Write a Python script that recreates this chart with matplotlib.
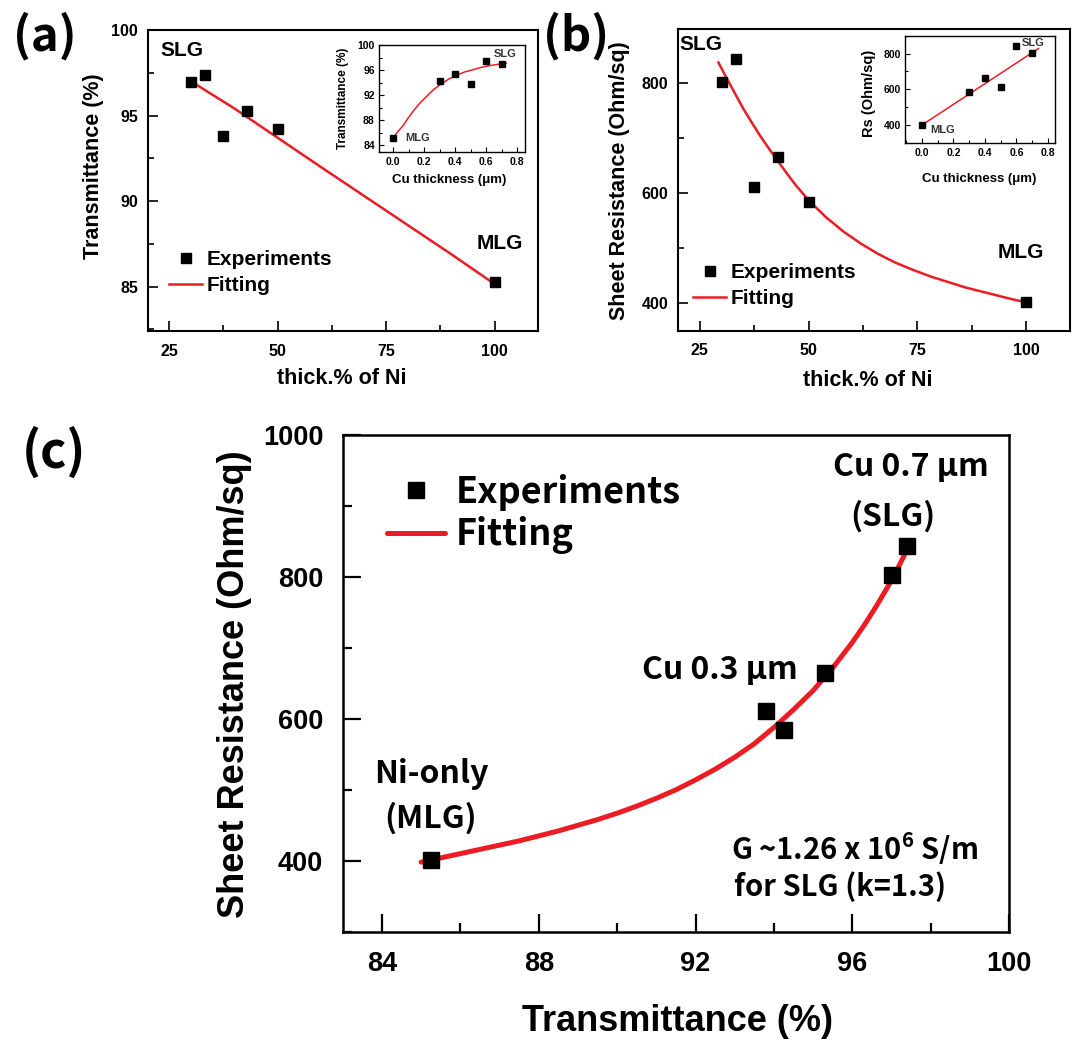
import matplotlib
matplotlib.use('Agg')
import matplotlib.pyplot as plt
from matplotlib.ticker import MultipleLocator

# ---------------- data ----------------
ni_pct = [30, 33.3, 37.5, 42.9, 50, 100]          # thick.% of Ni
cu_um = [0.7, 0.6, 0.5, 0.4, 0.3, 0.0]             # Cu thickness (um)
trans = [97.0, 97.4, 93.8, 95.3, 94.25, 85.25]     # Transmittance (%)
rs = [803, 844, 611, 665, 584, 401]                # Sheet resistance (Ohm/sq)

fit_a_x = [30.5, 40, 50, 60, 70, 80, 90, 100]
fit_a_y = [96.95, 95.44, 93.72, 92.0, 90.3, 88.6, 86.9, 85.15]

fit_b_x = [29.3, 31, 33, 35, 37, 39, 41, 43, 45, 47, 50, 54, 58, 62, 66, 70, 74, 78, 82, 86, 90, 94, 97, 100]
fit_b_y = [838, 812, 783, 754, 728, 703, 680, 658, 636, 615, 587, 556, 530, 508, 489, 473, 460, 448, 438, 428, 420, 412, 406, 401]

fit_ia_x = [0.01, 0.04, 0.065, 0.1, 0.13, 0.17, 0.215, 0.26, 0.31, 0.36, 0.41, 0.46, 0.52, 0.57, 0.62, 0.67, 0.73]
fit_ia_y = [85.6, 86.5, 87.2, 88.5, 89.5, 90.7, 91.8, 92.9, 93.8, 94.6, 95.2, 95.7, 96.1, 96.45, 96.7, 96.9, 97.1]

fit_ib_x = [0.01, 0.74]
fit_ib_y = [405, 828]

fit_c_x = [85.0, 85.5, 86.0, 86.5, 87.0, 87.5, 88.0, 88.5, 89.0, 89.5, 90.0, 90.5, 91.0, 91.5, 92.0,
           92.5, 93.0, 93.5, 94.0, 94.5, 95.0, 95.5, 96.0, 96.3, 96.6, 96.9, 97.1, 97.3, 97.45]
fit_c_y = [398, 404, 410, 416, 422, 428, 435, 442, 450, 458, 467, 477, 488, 500, 514,
           529, 546, 565, 588, 613, 640, 672, 708, 732, 758, 786, 806, 828, 846]

# ---------------- figure ----------------
W, H = 1073, 1040
fig = plt.figure(figsize=(W / 100, H / 100), dpi=100)
SANS = ['Liberation Sans', 'DejaVu Sans']
KR = ['Noto Sans CJK KR', 'DejaVu Sans']
plt.rcParams['font.family'] = SANS
plt.rcParams['font.weight'] = 'bold'
plt.rcParams['mathtext.default'] = 'regular'
RED = '#ec1c24'


def add_ax(l, t, r, b):
    return fig.add_axes([l / W, 1 - b / H, (r - l) / W, (b - t) / H])


def ftext(x, y, s, **kw):
    ha = kw.pop('ha', 'center')
    va = kw.pop('va', 'center')
    fig.text(x / W, 1 - y / H, s, ha=ha, va=va, **kw)


def style(ax, lw, tw, major, minor, size, padx, pady, family=SANS):
    for sp in ax.spines.values():
        sp.set_linewidth(lw)
    ax.tick_params(which='both', direction='in', top=False, right=False, width=tw)
    ax.tick_params(which='major', length=major)
    ax.tick_params(which='minor', length=minor)
    ax.tick_params(axis='x', pad=padx, labelsize=size, labelfontfamily=family)
    ax.tick_params(axis='y', pad=pady, labelsize=size, labelfontfamily=family)


def leg(ax, x, y, size, family, hl, htp, ls):
    ax.legend(loc='upper left', bbox_to_anchor=(x / W, 1 - y / H), bbox_transform=fig.transFigure,
              frameon=False, borderpad=0, borderaxespad=0, numpoints=1,
              handlelength=hl, handletextpad=htp, labelspacing=ls,
              prop={'family': family, 'weight': 'bold', 'size': size})


# ---------------- (a) ----------------
ax = add_ax(147.7, 30.4, 538, 331)
ax.plot(ni_pct, trans, 's', color='k', ms=7, label='Experiments', zorder=3)
ax.plot(fit_a_x, fit_a_y, '-', color=RED, lw=1.8, label='Fitting')
ax.set_xlim(20.1, 110)
ax.set_ylim(82.4, 100)
ax.xaxis.set_major_locator(MultipleLocator(25))
ax.xaxis.set_minor_locator(MultipleLocator(12.5))
ax.yaxis.set_major_locator(MultipleLocator(5))
ax.yaxis.set_minor_locator(MultipleLocator(2.5))
style(ax, 1.5, 1.2, 7, 4, 11.5, 9, 7)
leg(ax, 169, 250, 15, SANS, 1.6, 0.2, 0.35)
ftext(182, 51, 'SLG', fontsize=15)
ftext(500, 243, 'MLG', fontsize=15)
ftext(93, 166, 'Transmittance (%)', fontsize=15.5, rotation=90)
ftext(341.6, 378, 'thick.% of Ni', fontsize=15.5)

# inset (a)
ia = add_ax(379, 45, 525, 151.7)
ia.plot(cu_um, trans, 's', color='k', ms=4.8, zorder=3)
ia.plot(fit_ia_x, fit_ia_y, '-', color=RED, lw=1.1)
ia.set_xlim(-0.092, 0.85)
ia.set_ylim(83, 100)
ia.set_xticks([0, 0.2, 0.4, 0.6, 0.8], ['0.0', '0.2', '0.4', '0.6', '0.8'])
ia.xaxis.set_minor_locator(MultipleLocator(0.1))
ia.yaxis.set_major_locator(MultipleLocator(4))
ia.yaxis.set_minor_locator(MultipleLocator(2))
style(ia, 1.0, 0.8, 3.5, 2, 7.5, 4, 3)
ftext(505, 54, 'SLG', fontsize=8, color='#333333')
ftext(418, 138, 'MLG', fontsize=8, color='#333333')
ftext(343, 98, 'Transmittance (%)', fontsize=8.5, rotation=90)
ftext(449, 180, 'Cu thickness (μm)', fontsize=9.5)

# ---------------- (b) ----------------
bx = add_ax(678, 28.5, 1069.5, 330.7)
bx.plot(ni_pct, rs, 's', color='k', ms=7, label='Experiments', zorder=3)
bx.plot(fit_b_x, fit_b_y, '-', color=RED, lw=1.8, label='Fitting')
bx.set_xlim(20.0, 110)
bx.set_ylim(349, 900)
bx.xaxis.set_major_locator(MultipleLocator(25))
bx.xaxis.set_minor_locator(MultipleLocator(12.5))
bx.yaxis.set_major_locator(MultipleLocator(200))
bx.yaxis.set_minor_locator(MultipleLocator(100))
style(bx, 1.5, 1.2, 7, 4, 11.5, 9, 7)
leg(bx, 693, 263, 15, SANS, 1.6, 0.2, 0.35)
ftext(700.6, 45, 'SLG', fontsize=15)
ftext(1020.8, 253, 'MLG', fontsize=15)
ftext(620, 181, 'Sheet Resistance (Ohm/sq)', fontsize=15.5, rotation=90)
ftext(867.6, 381, 'thick.% of Ni', fontsize=15.5)

# inset (b)
ib = add_ax(905, 35.7, 1055, 142.7)
ib.plot(cu_um, rs, 's', color='k', ms=4.8, zorder=3)
ib.plot(fit_ib_x, fit_ib_y, '-', color=RED, lw=1.1)
ib.set_xlim(-0.108, 0.845)
ib.set_ylim(300, 900)
ib.set_xticks([0, 0.2, 0.4, 0.6, 0.8], ['0.0', '0.2', '0.4', '0.6', '0.8'])
ib.xaxis.set_minor_locator(MultipleLocator(0.1))
ib.yaxis.set_major_locator(MultipleLocator(200))
ib.yaxis.set_minor_locator(MultipleLocator(100))
style(ib, 1.0, 0.8, 3.5, 2, 7.5, 4, 3)
ftext(1033, 42.7, 'SLG', fontsize=8, color='#333333')
ftext(943, 130, 'MLG', fontsize=8, color='#333333')
ftext(869.4, 93, 'Rs (Ohm/sq)', fontsize=10.5, rotation=90)
ftext(979, 179, 'Cu thickness (μm)', fontsize=9.5)

# ---------------- (c) ----------------
cx = add_ax(342.7, 435, 1009.3, 931.7)
cx.plot(trans, rs, 's', color='k', ms=11.5, label='Experiments', zorder=3)
cx.plot(fit_c_x, fit_c_y, '-', color=RED, lw=3.6, label='Fitting',
        solid_capstyle='round', solid_joinstyle='round')
cx.set_xlim(83, 100)
cx.set_ylim(300, 1000)
cx.xaxis.set_major_locator(MultipleLocator(4))
cx.xaxis.set_minor_locator(MultipleLocator(2))
cx.yaxis.set_major_locator(MultipleLocator(200))
cx.yaxis.set_minor_locator(MultipleLocator(100))
style(cx, 1.8, 1.6, 13, 6.5, 19.5, 14, 14)
leg(cx, 387, 474, 26, KR, 1.6, 0.3, 0.15)
ftext(911, 466.7, 'Cu 0.7 μm', fontsize=23, family=KR)
ftext(893, 516.7, '(SLG)', fontsize=23, family=KR)
ftext(719.4, 669.6, 'Cu 0.3 μm', fontsize=23, family=KR)
ftext(431, 774, 'Ni-only', fontsize=23, family=KR)
ftext(431, 818.5, '(MLG)', fontsize=23, family=KR)
ftext(855, 848.7, 'G ~1.26 x 10$^{6}$ S/m', fontsize=21, family=KR)
ftext(840, 887, 'for SLG (k=1.3)', fontsize=21, family=KR)
ftext(235, 684, 'Sheet Resistance (Ohm/sq)', fontsize=26, rotation=90)
ftext(678, 1021.7, 'Transmittance (%)', fontsize=26)

# panel labels
ftext(45, 36, '(a)', fontsize=34, family=KR)
ftext(576, 36.5, '(b)', fontsize=34, family=KR)
ftext(54, 453, '(c)', fontsize=36, family=KR)

fig.savefig('out.png', dpi=100)
